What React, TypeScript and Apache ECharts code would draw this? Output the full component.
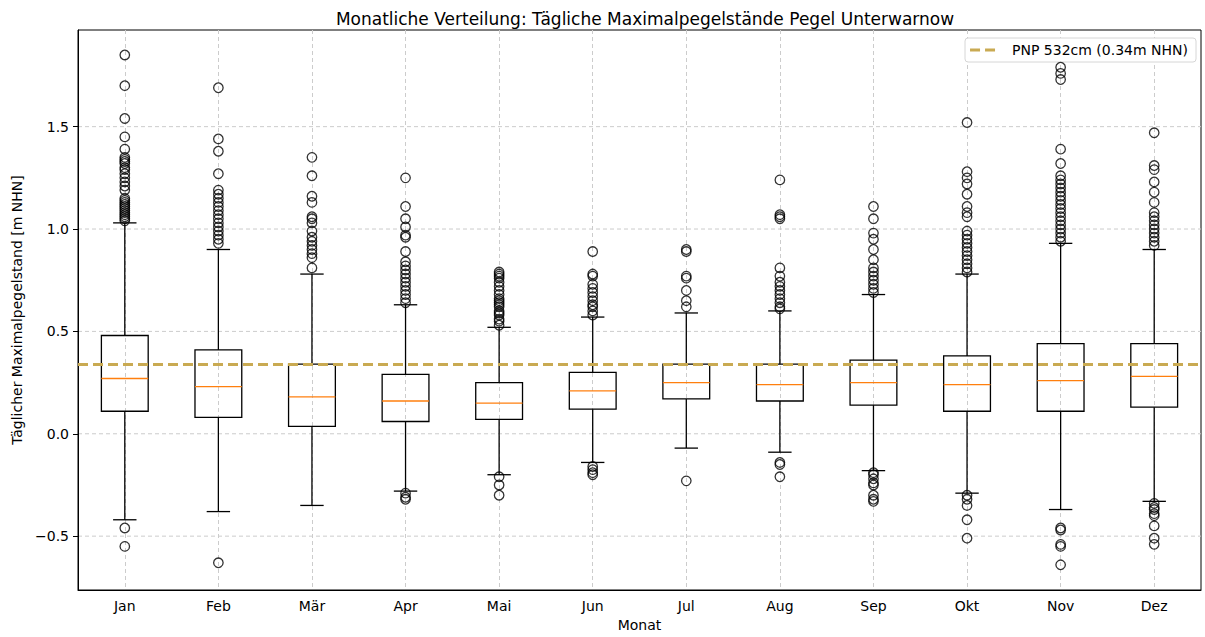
import React, { useEffect, useRef } from "react";
import * as echarts from "echarts";

const months = ["Jan", "Feb", "Mär", "Apr", "Mai", "Jun", "Jul", "Aug", "Sep", "Okt", "Nov", "Dez"];
const whiskerLow = [-0.42, -0.38, -0.35, -0.28, -0.2, -0.14, -0.07, -0.09, -0.18, -0.29, -0.37, -0.33];
const q1 = [0.11, 0.08, 0.036, 0.06, 0.07, 0.12, 0.17, 0.16, 0.14, 0.11, 0.11, 0.13];
const median = [0.27, 0.23, 0.18, 0.16, 0.15, 0.21, 0.25, 0.24, 0.25, 0.24, 0.26, 0.28];
const q3 = [0.48, 0.41, 0.34, 0.29, 0.25, 0.3, 0.34, 0.34, 0.36, 0.38, 0.44, 0.44];
const whiskerHigh = [1.03, 0.9, 0.78, 0.63, 0.52, 0.57, 0.59, 0.6, 0.68, 0.78, 0.93, 0.9];

const outliers: number[][] = [
  [1.85, 1.7, 1.54, 1.45, 1.39, 1.35, 1.34, 1.33, 1.32, 1.3, 1.29, 1.27, 1.25, 1.23, 1.21, 1.19, 1.15, 1.14, 1.13, 1.12, 1.11, 1.1, 1.09, 1.08, 1.07, 1.06, 1.05, 1.04, -0.46, -0.55],
  [1.69, 1.44, 1.38, 1.27, 1.19, 1.17, 1.15, 1.13, 1.11, 1.09, 1.07, 1.05, 1.03, 1.01, 0.99, 0.97, 0.95, 0.93, -0.63],
  [1.35, 1.26, 1.16, 1.13, 1.06, 1.05, 1.03, 0.99, 0.96, 0.94, 0.92, 0.9, 0.88, 0.86, 0.81],
  [1.25, 1.11, 1.05, 1.01, 0.97, 0.96, 0.89, 0.84, 0.82, 0.8, 0.78, 0.76, 0.74, 0.72, 0.7, 0.68, 0.66, 0.64, -0.29, -0.31, -0.32],
  [0.79, 0.78, 0.77, 0.76, 0.74, 0.72, 0.7, 0.68, 0.66, 0.65, 0.64, 0.63, 0.62, 0.6, 0.59, 0.58, 0.56, 0.55, 0.53, -0.21, -0.25, -0.3],
  [0.89, 0.78, 0.77, 0.73, 0.71, 0.69, 0.67, 0.65, 0.63, 0.62, 0.6, 0.58, -0.16, -0.175, -0.19, -0.2],
  [0.9, 0.89, 0.77, 0.76, 0.7, 0.65, 0.62, -0.23],
  [1.24, 1.07, 1.06, 1.05, 0.81, 0.77, 0.74, 0.72, 0.7, 0.68, 0.66, 0.64, 0.62, 0.61, -0.14, -0.15, -0.21],
  [1.11, 1.05, 0.98, 0.95, 0.9, 0.85, 0.81, 0.79, 0.77, 0.75, 0.73, 0.71, 0.69, -0.19, -0.2, -0.22, -0.24, -0.25, -0.3, -0.32, -0.33],
  [1.52, 1.28, 1.25, 1.22, 1.17, 1.11, 1.08, 1.06, 0.99, 0.97, 0.95, 0.93, 0.91, 0.89, 0.87, 0.85, 0.83, 0.81, 0.79, -0.3, -0.32, -0.35, -0.42, -0.51],
  [1.79, 1.76, 1.73, 1.39, 1.32, 1.26, 1.24, 1.22, 1.2, 1.18, 1.16, 1.14, 1.12, 1.1, 1.08, 1.06, 1.04, 1.02, 1.0, 0.98, 0.96, 0.94, -0.46, -0.47, -0.54, -0.55, -0.64],
  [1.47, 1.31, 1.29, 1.23, 1.18, 1.13, 1.08, 1.06, 1.04, 1.02, 1.0, 0.98, 0.96, 0.94, 0.92, -0.34, -0.36, -0.37, -0.39, -0.4, -0.45, -0.51, -0.54],
];

const yTicks = [-0.5, 0, 0.5, 1.0, 1.5];
const pnpLevel = 0.34;
const pnpLabel = "PNP 532cm (0.34m NHN)";
const yMin = -0.763;
const yMax = 1.972;

const FONT = "DejaVu Sans";
const PNP_COLOR = "#c9aa52";

export default function App() {
  const ref = useRef<HTMLDivElement>(null);
  useEffect(() => {
    if (!ref.current) return;
    const chart = echarts.init(ref.current, null, { renderer: "svg" });
    const boxData = months.map((_, i) => [i, whiskerLow[i], q1[i], median[i], q3[i], whiskerHigh[i]]);
    const outlierData: number[][] = [];
    outliers.forEach((arr, i) => arr.forEach((v) => outlierData.push([i, v])));

    chart.setOption({
      animation: false,
      textStyle: { fontFamily: FONT },
      title: {
        text: "Monatliche Verteilung: Tägliche Maximalpegelstände Pegel Unterwarnow",
        left: 640,
        textAlign: "center",
        top: 5,
        textStyle: { fontFamily: FONT, fontSize: 17, fontWeight: "normal", color: "#000" },
      },
      legend: {
        right: 9,
        top: 38,
        data: [{ name: pnpLabel, icon: "path://M0,0H10V3H0Z M15,0H25V3H15Z" }],
        itemWidth: 25,
        itemHeight: 3,
        padding: [5, 8, 5, 5],
        backgroundColor: "#fff",
        borderColor: "#d6d6d6",
        borderWidth: 1,
        borderRadius: 3,
        textStyle: { fontFamily: FONT, fontSize: 14, color: "#000", padding: [0, 0, 0, 12] },
      },
      grid: {
        left: 78,
        right: 4,
        top: 30,
        bottom: 46,
        show: true,
        borderColor: "#000",
        borderWidth: 1,
        backgroundColor: "transparent",
      },
      xAxis: {
        type: "category",
        data: months,
        boundaryGap: true,
        name: "Monat",
        nameLocation: "middle",
        nameGap: 28,
        nameTextStyle: { fontFamily: FONT, fontSize: 14, color: "#000" },
        axisLine: { onZero: false, lineStyle: { color: "#000", width: 1 } },
        axisTick: { alignWithLabel: true, length: 5, lineStyle: { color: "#000" } },
        axisLabel: { fontFamily: FONT, fontSize: 14, color: "#000", margin: 9 },
        splitLine: {
          show: true,
          alignWithLabel: true,
          lineStyle: { color: "#cccccc", type: [4, 3], width: 1 },
        },
      },
      yAxis: {
        type: "value",
        min: yMin,
        max: yMax,
        name: "Täglicher Maximalpegelstand [m NHN]",
        nameLocation: "middle",
        nameGap: 53,
        nameTextStyle: { fontFamily: FONT, fontSize: 14, color: "#000" },
        axisLine: { show: true, onZero: false, lineStyle: { color: "#000", width: 1 } },
        axisTick: { show: true, length: 5, customValues: yTicks, lineStyle: { color: "#000" } },
        axisLabel: {
          fontFamily: FONT,
          fontSize: 14,
          color: "#000",
          margin: 9,
          customValues: yTicks,
          formatter: (v: number) => (v < 0 ? "\u2212" + Math.abs(v).toFixed(1) : v.toFixed(1)),
        },
        splitLine: { show: false },
      },
      series: [
        {
          type: "custom",
          name: "grid",
          silent: true,
          z: 0,
          data: yTicks.map((t) => [t]),
          encode: { y: 0 },
          renderItem: (params: any, api: any) => {
            const v = api.value(0);
            const p = api.coord([0, v]);
            const cs = params.coordSys;
            return {
              type: "line",
              shape: { x1: cs.x, y1: p[1], x2: cs.x + cs.width, y2: p[1] },
              style: { stroke: "#cccccc", lineWidth: 1, lineDash: [4, 3] },
            };
          },
        },
        {
          type: "custom",
          name: "boxes",
          z: 3,
          data: boxData,
          encode: { x: 0, y: [1, 2, 3, 4, 5] },
          renderItem: (params: any, api: any) => {
            const idx = api.value(0);
            const lo = api.coord([idx, api.value(1)]);
            const b1 = api.coord([idx, api.value(2)]);
            const med = api.coord([idx, api.value(3)]);
            const b3 = api.coord([idx, api.value(4)]);
            const hi = api.coord([idx, api.value(5)]);
            const band = api.size([1, 0])[0];
            const w = band * 0.5;
            const cw = band * 0.25;
            const x = lo[0];
            const black = { stroke: "#000", lineWidth: 1.3, fill: "none" };
            return {
              type: "group",
              children: [
                { type: "line", shape: { x1: x, y1: b1[1], x2: x, y2: lo[1] }, style: black },
                { type: "line", shape: { x1: x, y1: b3[1], x2: x, y2: hi[1] }, style: black },
                { type: "line", shape: { x1: x - cw / 2, y1: lo[1], x2: x + cw / 2, y2: lo[1] }, style: black },
                { type: "line", shape: { x1: x - cw / 2, y1: hi[1], x2: x + cw / 2, y2: hi[1] }, style: black },
                {
                  type: "rect",
                  shape: { x: x - w / 2, y: b3[1], width: w, height: b1[1] - b3[1] },
                  style: { stroke: "#000", lineWidth: 1.3, fill: "none" },
                },
                {
                  type: "line",
                  shape: { x1: x - w / 2, y1: med[1], x2: x + w / 2, y2: med[1] },
                  style: { stroke: "#ff7f0e", lineWidth: 1.3 },
                },
              ],
            };
          },
        },
        {
          type: "scatter",
          name: "outliers",
          z: 4,
          data: outlierData,
          symbol: "circle",
          symbolSize: 9.5,
          itemStyle: { color: "rgba(0,0,0,0)", borderColor: "#000", borderWidth: 1.3 },
        },
        {
          type: "line",
          name: pnpLabel,
          data: [],
          symbol: "none",
          z: 5,
          lineStyle: { color: PNP_COLOR, width: 2.6, type: [10, 5] },
          itemStyle: { color: PNP_COLOR },
          markLine: {
            silent: true,
            symbol: "none",
            label: { show: false },
            lineStyle: { color: PNP_COLOR, width: 2.8, type: [10, 5] },
            data: [{ yAxis: pnpLevel }],
          },
        },
      ],
    });
    return () => chart.dispose();
  }, []);
  return <div ref={ref} style={{ position: "absolute", left: 0, top: 0, width: 1205, height: 637 }} />;
}
